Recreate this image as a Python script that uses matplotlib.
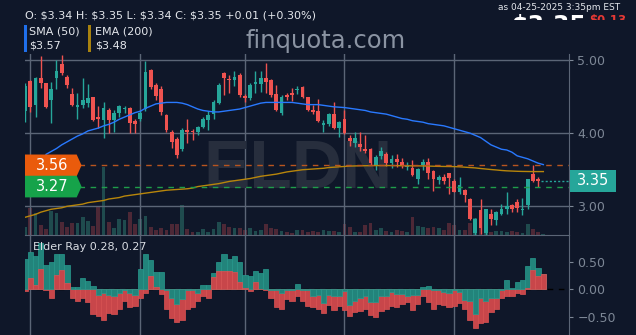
import numpy as np
import pandas as pd
import matplotlib
matplotlib.use('Agg')
import matplotlib.pyplot as plt
from matplotlib.patches import Polygon, Rectangle
from matplotlib.transforms import blended_transform_factory
from matplotlib.ticker import FuncFormatter

# trading days shown (Nov 29 2024 .. Apr 25 2025)
holidays = ['2024-12-25', '2025-01-01', '2025-01-09', '2025-01-20', '2025-02-17', '2025-04-18']
dates = pd.bdate_range('2024-11-29', '2025-04-25', freq='C', holidays=holidays)

opens = [4.30, 4.71, 4.39, 4.76, 4.68, 4.46, 4.76, 4.94, 4.77, 4.53,
         4.36, 4.38, 4.41, 4.49, 4.22, 4.18, 4.31, 4.18, 4.27, 4.33,
         4.35, 4.17, 4.19, 4.33, 4.87, 4.66, 4.60, 4.25, 4.02, 3.92,
         3.79, 4.04, 4.03, 4.02, 4.09, 4.18, 4.26, 4.41, 4.82, 4.74,
         4.73, 4.79, 4.51, 4.48, 4.67, 4.67, 4.75, 4.72, 4.54, 4.27,
         4.52, 4.55, 4.59, 4.63, 4.49, 4.32, 4.30, 4.11, 4.13, 4.26,
         4.07, 4.20, 3.93, 3.87, 3.85, 3.78, 3.79, 3.57, 3.69, 3.72,
         3.59, 3.64, 3.60, 3.54, 3.53, 3.37, 3.56, 3.60, 3.48, 3.36,
         3.40, 3.45, 3.34, 3.19, 3.22, 3.10, 2.64, 2.95, 2.63, 2.89,
         2.81, 2.90, 2.97, 3.02, 3.06, 2.95, 3.02, 3.44, 3.37, 3.34]
highs = [4.68, 4.73, 4.77, 5.06, 4.69, 4.70, 5.00, 5.07, 4.80, 4.62,
         4.55, 4.76, 4.67, 4.50, 4.37, 4.43, 4.35, 4.32, 4.39, 4.37,
         4.36, 4.20, 4.31, 4.98, 4.88, 4.69, 4.64, 4.26, 4.05, 3.95,
         4.07, 4.19, 4.06, 4.10, 4.22, 4.30, 4.45, 4.68, 4.84, 4.80,
         4.85, 4.82, 4.54, 4.68, 4.85, 4.85, 4.96, 4.74, 4.66, 4.52,
         4.55, 4.62, 4.64, 4.65, 4.50, 4.38, 4.47, 4.18, 4.28, 4.43,
         4.17, 4.32, 3.97, 4.01, 4.01, 3.98, 3.80, 3.70, 3.81, 3.74,
         3.70, 3.71, 3.66, 3.60, 3.63, 3.53, 3.65, 3.66, 3.49, 3.43,
         3.44, 3.46, 3.38, 3.40, 3.24, 3.11, 2.84, 3.10, 2.97, 2.97,
         2.94, 3.03, 3.20, 3.03, 3.10, 3.11, 3.38, 3.56, 3.40, 3.35]
lows = [4.15, 4.29, 4.22, 4.62, 4.34, 4.14, 4.61, 4.79, 4.62, 4.37,
        4.20, 4.34, 4.36, 4.16, 4.07, 3.94, 4.00, 4.02, 4.22, 4.28,
        4.00, 4.00, 4.17, 4.30, 4.60, 4.45, 4.25, 4.02, 3.80, 3.66,
        3.75, 3.87, 3.90, 3.98, 4.07, 4.05, 4.19, 4.40, 4.52, 4.55,
        4.65, 4.50, 4.42, 4.45, 4.55, 4.56, 4.55, 4.50, 4.30, 4.25,
        4.45, 4.44, 4.53, 4.48, 4.30, 4.26, 4.15, 4.02, 4.10, 4.06,
        3.95, 3.99, 3.83, 3.81, 3.75, 3.73, 3.57, 3.49, 3.65, 3.55,
        3.52, 3.54, 3.52, 3.49, 3.42, 3.30, 3.50, 3.37, 3.21, 3.30,
        3.31, 3.17, 3.19, 3.17, 3.06, 2.81, 2.61, 2.62, 2.61, 2.74,
        2.74, 2.88, 2.90, 2.92, 2.92, 2.88, 2.96, 3.33, 3.27, 3.34]
closes = [4.65, 4.36, 4.76, 4.68, 4.36, 4.60, 4.85, 4.82, 4.66, 4.39,
          4.38, 4.46, 4.48, 4.18, 4.20, 4.35, 4.18, 4.27, 4.37, 4.35,
          4.14, 4.12, 4.28, 4.83, 4.63, 4.51, 4.29, 4.04, 3.88, 3.70,
          4.05, 4.02, 4.01, 4.08, 4.20, 4.25, 4.42, 4.66, 4.75, 4.72,
          4.77, 4.52, 4.48, 4.66, 4.70, 4.75, 4.70, 4.52, 4.32, 4.50,
          4.50, 4.52, 4.61, 4.50, 4.32, 4.29, 4.16, 4.14, 4.26, 4.07,
          4.155, 4.00, 3.89, 3.93, 3.81, 3.76, 3.59, 3.68, 3.75, 3.59,
          3.65, 3.60, 3.55, 3.55, 3.43, 3.51, 3.60, 3.46, 3.37, 3.40,
          3.34, 3.39, 3.20, 3.29, 3.16, 2.82, 2.82, 2.70, 2.96, 2.82,
          2.92, 2.97, 3.00, 2.97, 2.98, 2.97, 3.37, 3.35, 3.34, 3.35]
# volume in thousands (relative)
volume = [80, 270, 220, 100, 60, 240, 220, 130, 80, 120,
          120, 180, 140, 90, 280, 680, 130, 70, 160, 150,
          230, 110, 160, 190, 80, 50, 70, 50, 110, 110,
          300, 60, 30, 30, 60, 30, 60, 130, 110, 80,
          70, 70, 50, 70, 40, 50, 110, 70, 60, 40,
          30, 20, 50, 50, 30, 40, 30, 50, 40, 40,
          30, 110, 80, 30, 30, 100, 120, 50, 70, 40,
          30, 50, 40, 30, 180, 90, 80, 70, 80, 70,
          50, 120, 100, 50, 50, 120, 170, 170, 170, 30,
          40, 40, 30, 40, 30, 20, 110, 60, 30, 10]

sma50 = [np.nan, np.nan, np.nan, np.nan, 3.71, 3.75, 3.79, 3.84, 3.88, 3.92,
         3.96, 3.99, 4.03, 4.05, 4.07, 4.10, 4.12, 4.15, 4.19, 4.22,
         4.25, 4.28, 4.30, 4.34, 4.37, 4.40, 4.41, 4.42, 4.42, 4.42,
         4.41, 4.39, 4.36, 4.33, 4.31, 4.30, 4.29, 4.29, 4.30, 4.31,
         4.32, 4.33, 4.35, 4.37, 4.39, 4.41, 4.42, 4.42, 4.42, 4.42,
         4.42, 4.42, 4.41, 4.40, 4.39, 4.39, 4.39, 4.38, 4.37, 4.36,
         4.355, 4.35, 4.34, 4.33, 4.32, 4.31, 4.29, 4.28, 4.27, 4.26,
         4.24, 4.22, 4.20, 4.19, 4.17, 4.16, 4.15, 4.13, 4.12, 4.11,
         4.10, 4.08, 4.06, 4.04, 4.02, 4.00, 3.97, 3.94, 3.89, 3.84,
         3.81, 3.78, 3.77, 3.74, 3.69, 3.67, 3.65, 3.62, 3.59, 3.57]
ema200 = [2.85, 2.87, 2.89, 2.92, 2.94, 2.96, 2.97, 2.98, 3.00, 3.01,
          3.02, 3.03, 3.05, 3.06, 3.07, 3.08, 3.10, 3.11, 3.12, 3.14,
          3.15, 3.16, 3.17, 3.18, 3.19, 3.20, 3.21, 3.22, 3.225, 3.23,
          3.235, 3.24, 3.25, 3.27, 3.28, 3.29, 3.30, 3.31, 3.325, 3.34,
          3.35, 3.36, 3.37, 3.38, 3.395, 3.41, 3.42, 3.43, 3.44, 3.455,
          3.47, 3.48, 3.49, 3.50, 3.505, 3.51, 3.515, 3.52, 3.53, 3.535,
          3.54, 3.545, 3.55, 3.552, 3.554, 3.555, 3.556, 3.557, 3.557, 3.557,
          3.557, 3.556, 3.555, 3.554, 3.553, 3.553, 3.552, 3.55, 3.548, 3.546,
          3.545, 3.544, 3.543, 3.54, 3.535, 3.53, 3.525, 3.517, 3.51, 3.503,
          3.497, 3.49, 3.485, 3.482, 3.479, 3.477, 3.476, 3.475, 3.475, 3.475]

bull = [0.55, 0.68, 0.61, 0.84, 0.44, 0.49, 0.65, 0.65, 0.45, 0.04,
        0.04, 0.20, 0.15, 0.06, -0.10, -0.07, -0.10, -0.13, -0.06, -0.01,
        -0.07, -0.10, 0.36, 0.65, 0.53, 0.31, 0.31, -0.01, -0.16, -0.27,
        -0.18, -0.01, -0.01, -0.07, 0.08, 0.08, 0.30, 0.49, 0.65, 0.55,
        0.60, 0.49, 0.26, 0.24, 0.33, 0.29, 0.37, -0.01, -0.01, -0.07,
        -0.01, -0.01, 0.09, -0.02, -0.01, -0.13, -0.10, -0.25, -0.10, -0.12,
        -0.12, -0.04, -0.28, -0.21, -0.15, -0.13, -0.24, -0.24, -0.13, -0.13,
        -0.05, -0.09, -0.09, -0.12, -0.10, -0.10, 0.05, 0.06, -0.01, -0.01,
        -0.05, -0.07, -0.01, -0.05, -0.19, -0.22, -0.45, -0.15, -0.21, -0.16,
        -0.15, -0.01, 0.17, 0.03, 0.13, 0.17, 0.42, 0.56, 0.38, 0.28]
bear = [-0.03, 0.21, 0.08, 0.36, -0.01, -0.15, 0.26, 0.35, 0.11, -0.15,
        -0.22, -0.16, -0.24, -0.45, -0.48, -0.55, -0.44, -0.45, -0.35, -0.21,
        -0.33, -0.30, -0.15, -0.07, 0.24, 0.05, -0.09, -0.36, -0.53, -0.59,
        -0.56, -0.36, -0.32, -0.21, -0.12, -0.16, 0.22, 0.33, 0.33, 0.33,
        0.32, 0.14, 0.02, -0.04, 0.13, 0.00, -0.01, -0.16, -0.33, -0.35,
        -0.18, -0.21, -0.12, -0.22, -0.31, -0.33, -0.35, -0.44, -0.28, -0.38,
        -0.31, -0.38, -0.48, -0.41, -0.39, -0.36, -0.46, -0.50, -0.39, -0.35,
        -0.31, -0.33, -0.26, -0.24, -0.38, -0.27, -0.13, -0.23, -0.35, -0.27,
        -0.28, -0.32, -0.30, -0.25, -0.36, -0.55, -0.70, -0.62, -0.59, -0.41,
        -0.36, -0.15, -0.12, -0.12, -0.06, -0.08, 0.02, 0.35, 0.24, 0.27]

resist, support, last = 3.56, 3.27, 3.35

bg = '#0f1729'
grid_c = '#5b6576'
tick_c = '#7d8796'
up, down = '#26a69a', '#ef5350'

W, H = 636, 335
fig = plt.figure(figsize=(W / 100, H / 100), dpi=100, facecolor=bg)

def fx(px):
    return px / W

def fy(py):
    return 1 - py / H

x = np.arange(len(dates))
month_idx = [i for i in range(1, len(dates)) if dates[i].month != dates[i - 1].month]
o, h, l, c = map(np.array, (opens, highs, lows, closes))
is_up = c >= o

# ---- price panel
ax = fig.add_axes([fx(25), fy(235), fx(569) - fx(25), fy(54) - fy(235)])
axv = ax.twinx()
ax.set_zorder(axv.get_zorder() + 1)
ax.patch.set_visible(False)
axv.set_facecolor(bg)

axv.bar(x, volume, width=0.72, color=np.where(is_up, '#1f4b4e', '#4d2836'))
axv.set_ylim(0, 1810)
axv.set_yticks([])
for s in axv.spines.values():
    s.set_visible(False)

ax.set_xlim(-0.01, 103.9)
ax.set_ylim(2.608, 5.082)

cols = np.where(is_up, up, down)
ax.vlines(x, l, h, colors=cols, lw=1, zorder=3)
body = np.maximum(np.abs(c - o), 0.012)
ax.bar(x, body, bottom=np.minimum(o, c), width=0.72, color=cols, zorder=4)

ax.plot(x, sma50, color='#2979ff', lw=1, zorder=5)
ax.plot(x, ema200, color='#b8860b', lw=1, zorder=5)

ax.set_yticks([3, 4, 5])
ax.yaxis.set_major_formatter(FuncFormatter(lambda v, p: f'{v:.2f}'))
ax.yaxis.tick_right()
ax.tick_params(axis='y', colors=tick_c, labelsize=9, length=3, pad=3)
ax.set_xticks(month_idx)
ax.tick_params(axis='x', length=0, labelbottom=False)
ax.grid(True, color=grid_c, lw=1)
ax.set_axisbelow(True)
for k in ('top', 'left'):
    ax.spines[k].set_visible(False)
for k in ('right', 'bottom'):
    ax.spines[k].set_color(grid_c)

# watermark
ax.text(0.502, 0.36, 'ELDN', transform=ax.transAxes, ha='center', va='center',
        fontsize=50, fontweight='bold', family='Liberation Sans', color='#272e3d', zorder=1)

# level lines and tags
ax.axhline(resist, xmin=0.1, color='#b9551f', lw=1, ls=(0, (4, 4)), zorder=6)
ax.axhline(support, xmin=0.1, color='#1f9d4a', lw=1, ls=(0, (4, 4)), zorder=6)
ax.plot([98.6, 103.9], [last, last], color=up, lw=1, ls=(0, (1.5, 1.5)), zorder=6)

bt = blended_transform_factory(ax.transAxes, ax.transData)
hh = 0.148
for val, col in ((resist, '#ea5b0c'), (support, '#16a34a')):
    poly = Polygon([(0, val - hh), (0.095, val - hh), (0.104, val), (0.095, val + hh), (0, val + hh)],
                   closed=True, transform=bt, facecolor=col, edgecolor='none', zorder=8, clip_on=False)
    ax.add_patch(poly)
    ax.text(0.05, val, f'{val:.2f}', transform=bt, ha='center', va='center',
            color='white', fontsize=10.5, zorder=9)

ax.add_patch(Rectangle((1.002, last - 0.148), 0.084, 0.296, transform=bt, facecolor='#26a69a',
                       edgecolor='none', zorder=8, clip_on=False))
ax.text(1.044, last, f'{last:.2f}', transform=bt, ha='center', va='center',
        color='white', fontsize=10.5, zorder=9, clip_on=False)

# ---- elder ray panel
axe = fig.add_axes([fx(25), 0, fx(569) - fx(25), fy(235)], sharex=ax)
axe.patch.set_visible(False)
axe.set_ylim(-0.831, 0.987)
bu, be = np.array(bull), np.array(bear)
axe.axhline(0, color='black', lw=1, ls=(0, (4, 4)), zorder=0.5)
neg = be < 0
axe.bar(x[neg], be[neg], width=1.0, color='#c8464a', edgecolor='#dc5454', lw=0.5, zorder=1)
axe.bar(x, bu, width=1.0, color='#22847b', edgecolor='#289b8f', lw=0.5, zorder=2)
axe.bar(x[~neg], be[~neg], width=1.0, color='#c8464a', edgecolor='#dc5454', lw=0.5, zorder=3)

axe.set_yticks([-0.5, 0, 0.5])
axe.yaxis.set_major_formatter(FuncFormatter(lambda v, p: f'{v:.2f}'.replace('-', '\u2212')))
axe.yaxis.tick_right()
axe.tick_params(axis='y', colors=tick_c, labelsize=9, length=3, pad=3)
axe.tick_params(axis='x', length=0, labelbottom=False)
axe.grid(True, axis='x', color=grid_c, lw=1)
axe.set_axisbelow(True)
for k in ('top', 'left', 'bottom'):
    axe.spines[k].set_visible(False)
axe.spines['right'].set_color(grid_c)

# ---- header texts
txt = '#e4e7ec'
fig.text(fx(25), fy(15), 'O: $3.34 H: $3.35 L: $3.34 C: $3.35 +0.01 (+0.30%)',
         color=txt, fontsize=8, va='center', parse_math=False)
fig.patches.append(Rectangle((fx(24), fy(52)), fx(2.5), fy(25) - fy(52), transform=fig.transFigure,
                             facecolor='#1f6feb', edgecolor='none'))
fig.patches.append(Rectangle((fx(88), fy(52)), fx(2.5), fy(25) - fy(52), transform=fig.transFigure,
                             facecolor='#a8820f', edgecolor='none'))
fig.text(fx(29), fy(32), 'SMA (50)', color=txt, fontsize=8, va='center')
fig.text(fx(29), fy(46), f'${sma50[-1]:.2f}', color=txt, fontsize=8, va='center', parse_math=False)
fig.text(fx(95), fy(32), 'EMA (200)', color=txt, fontsize=8, va='center')
fig.text(fx(95), fy(46), f'${ema200[-1]:.2f}', color=txt, fontsize=8, va='center', parse_math=False)
fig.text(fx(326), fy(41), 'finquota.com', color='#8a93a2', fontsize=17.5, ha='center', va='center')
fig.text(fx(620), fy(7), 'as 04-25-2025 3:35pm EST', color=txt, fontsize=6.5, ha='right', va='center')
fig.text(fx(33), fy(247), f'Elder Ray {bull[-1]:.2f}, {bear[-1]:.2f}', color='#d8dce2',
         fontsize=8, va='center')

# big quote partly hidden behind the chart header band
fig.text(fx(511), fy(33), f'${last:.2f}', color='white', fontsize=17, fontweight='bold',
         va='baseline', parse_math=False, zorder=3)
fig.text(fx(589), fy(24), '$0.13', color='#e53935', fontsize=8.5, fontweight='bold',
         va='baseline', parse_math=False, zorder=3)
fig.add_artist(Rectangle((fx(480), fy(50)), fx(636 - 480), fy(20) - fy(50), transform=fig.transFigure,
                         facecolor=bg, edgecolor='none', zorder=4))

fig.savefig('out.png', dpi=100, facecolor=bg)
